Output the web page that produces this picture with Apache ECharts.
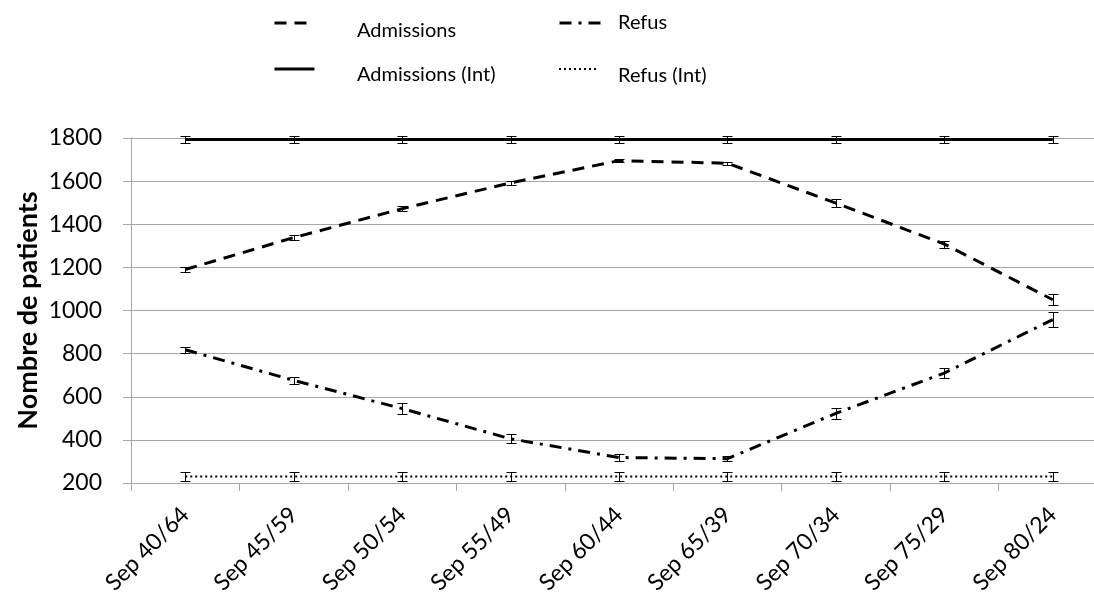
<!DOCTYPE html>
<html>
<head>
<meta charset="utf-8">
<script src="https://cdn.jsdelivr.net/npm/echarts@6/dist/echarts.min.js"></script>
<style>
  html, body { margin: 0; background: #fff; }
  #chart { width: 1094px; height: 604px; }
</style>
</head>
<body>
<div id="chart"></div>
<script>
const categories = ["Sep 40/64", "Sep 45/59", "Sep 50/54", "Sep 55/49", "Sep 60/44",
  "Sep 65/39", "Sep 70/34", "Sep 75/29", "Sep 80/24"];
const yTicks = [200, 400, 600, 800, 1000, 1200, 1400, 1600, 1800];

const admissions = [1190, 1338, 1472, 1592, 1695, 1683, 1498, 1308, 1050];
const admissionsErr = [10, 10, 12, 8, 8, 8, 18, 16, 25];
const refus = [818, 676, 545, 405, 318, 313, 523, 710, 958];
const refusErr = [15, 15, 26, 20, 18, 12, 25, 25, 35];
const admissionsInt = [1793, 1793, 1793, 1793, 1793, 1793, 1793, 1793, 1793];
const admissionsIntErr = [14, 14, 14, 14, 14, 14, 14, 14, 14];
const refusInt = [230, 230, 230, 230, 230, 230, 230, 230, 230];
const refusIntErr = [20, 20, 20, 20, 20, 20, 20, 20, 20];

const FONT = "Lato, 'Open Sans', sans-serif";
const chart = echarts.init(document.getElementById("chart"));

// error bars drawn through the axes
function errorBars(name, values, errors) {
  return {
    type: "custom",
    name: name + " err",
    silent: true,
    z: 5,
    data: values.map((v, i) => [i, v, errors[i]]),
    encode: { x: 0, y: 1 },
    renderItem(params, api) {
      const i = api.value(0);
      const v = api.value(1);
      const e = api.value(2);
      const top = api.coord([i, v + e]);
      const bot = api.coord([i, v - e]);
      const x = Math.round(top[0]) + 0.5;
      const y1 = Math.round(top[1]) + 0.5;
      const y2 = Math.round(bot[1]) + 0.5;
      const hw = 5;
      const st = { stroke: "#000", lineWidth: 1 };
      return {
        type: "group",
        children: [
          { type: "line", shape: { x1: x, y1: y1, x2: x, y2: y2 }, style: st },
          { type: "line", shape: { x1: x - hw, y1: y1, x2: x + hw, y2: y1 }, style: st },
          { type: "line", shape: { x1: x - hw, y1: y2, x2: x + hw, y2: y2 }, style: st }
        ]
      };
    }
  };
}

function lineSeries(name, values, width, type) {
  return {
    name: name,
    type: "line",
    data: values,
    symbol: "none",
    z: 3,
    lineStyle: { color: "#000", width: width, type: type, cap: "butt" },
    itemStyle: { color: "#000" }
  };
}

// the key keeps its line sample and its text apart, so each gets its own legend box
function legendIcon(name, left, centerY, width, lineWidth) {
  return {
    data: [name],
    left: left,
    top: centerY - 5,
    padding: 0,
    itemWidth: width,
    itemHeight: 10,
    selectedMode: false,
    itemStyle: { opacity: 0 },
    lineStyle: { width: lineWidth },
    formatter: () => "",
    textStyle: { fontSize: 1 }
  };
}

function legendText(name, textX, centerY) {
  return {
    data: [name],
    left: textX - 9,
    top: centerY - 9,
    padding: 0,
    itemWidth: 0,
    itemHeight: 10,
    selectedMode: false,
    itemStyle: { opacity: 0 },
    lineStyle: { opacity: 0 },
    textStyle: { fontFamily: FONT, fontSize: 20, color: "#000" }
  };
}

const option = {
  animation: false,
  backgroundColor: "#fff",
  legend: [
    legendIcon("Admissions", 273, 23, 35, 3),
    legendText("Admissions", 357, 30),
    legendIcon("Refus", 558, 23, 44, 3),
    legendText("Refus", 618, 22),
    legendIcon("Admissions (Int)", 273, 69, 40, 3),
    legendText("Admissions (Int)", 357, 74),
    legendIcon("Refus (Int)", 558, 69, 40, 2),
    legendText("Refus (Int)", 618, 75)
  ],
  grid: {
    left: 131,
    right: -13,
    top: 138,
    bottom: 121,
    containLabel: false,
    outerBoundsMode: "none"
  },
  xAxis: {
    type: "category",
    data: categories,
    boundaryGap: true,
    axisLine: { lineStyle: { color: "#a6a6a6", width: 1 } },
    axisTick: { show: true, length: 8, lineStyle: { color: "#a6a6a6" } },
    axisLabel: {
      rotate: 45,
      margin: 28,
      fontFamily: FONT,
      fontSize: 23,
      color: "#000"
    }
  },
  yAxis: {
    type: "value",
    min: 200,
    max: 1800,
    interval: 200,
    name: "Nombre de patients",
    nameLocation: "middle",
    nameGap: 89,
    nameMoveOverlap: false,
    nameTextStyle: { fontFamily: FONT, fontSize: 27, fontWeight: "bold", color: "#000" },
    axisLine: { show: true, lineStyle: { color: "#a6a6a6", width: 1 } },
    axisTick: { show: true, length: 8, lineStyle: { color: "#a6a6a6" } },
    splitLine: { lineStyle: { color: "#a6a6a6", width: 1 } },
    axisLabel: {
      margin: 29,
      fontFamily: FONT,
      fontSize: 23,
      color: "#000",
      formatter: v => (yTicks.includes(v) ? String(v) : "")
    }
  },
  series: [
    lineSeries("Admissions", admissions, 3, [12, 8]),
    lineSeries("Refus", refus, 3, [12, 7, 3, 7]),
    lineSeries("Admissions (Int)", admissionsInt, 3, "solid"),
    lineSeries("Refus (Int)", refusInt, 2, [2, 3]),
    errorBars("Admissions", admissions, admissionsErr),
    errorBars("Refus", refus, refusErr),
    errorBars("Admissions (Int)", admissionsInt, admissionsIntErr),
    errorBars("Refus (Int)", refusInt, refusIntErr)
  ]
};

chart.setOption(option);
</script>
</body>
</html>
